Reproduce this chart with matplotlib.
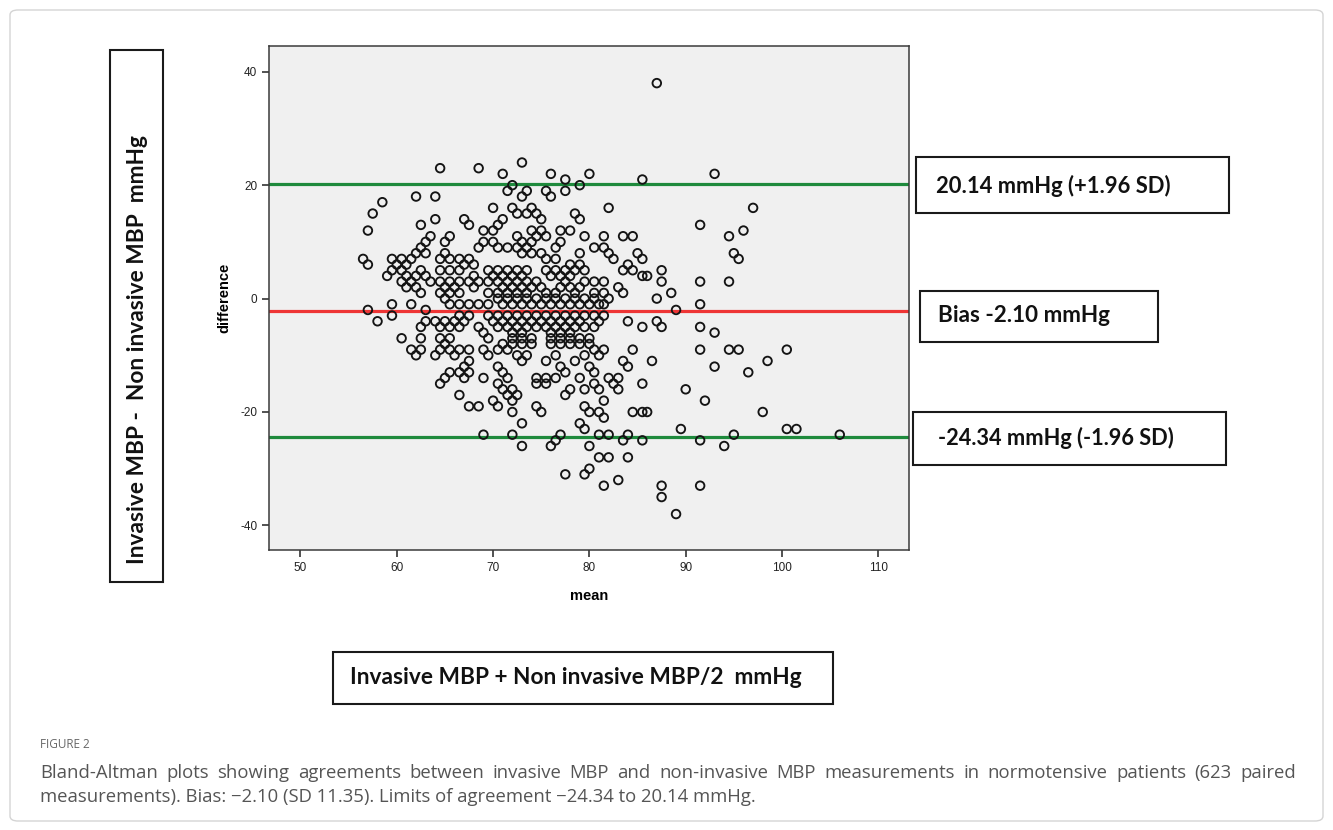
#!/usr/bin/env python3
"""Bland-Altman plot: invasive vs non-invasive MBP (normotensive patients)."""
import matplotlib
matplotlib.use("Agg")
import matplotlib.pyplot as plt
from matplotlib.patches import Rectangle, FancyBboxPatch

W, H, DPI = 1333, 830, 100

upper_loa = 20.14
bias = -2.10
lower_loa = -24.34

x_ticks = [50, 60, 70, 80, 90, 100, 110]
y_ticks = [-40, -20, 0, 20, 40]

# (mean, difference) pairs, mmHg
pairs = [
    (87, 38),
    (73, 24),
    (64.5, 23), (68.5, 23),
    (71, 22), (76, 22), (80, 22), (93, 22),
    (77.5, 21), (85.5, 21),
    (72, 20), (79, 20),
    (71.5, 19), (73.5, 19), (75.5, 19), (77.5, 19),
    (62, 18), (64, 18), (73, 18), (76, 18),
    (58.5, 17),
    (70, 16), (72, 16), (74, 16), (82, 16), (97, 16),
    (57.5, 15), (72.5, 15), (73.5, 15), (74.5, 15), (78.5, 15),
    (64, 14), (67, 14), (71, 14), (75, 14), (79, 14),
    (62.5, 13), (67.5, 13), (70.5, 13), (91.5, 13),
    (57, 12), (69, 12), (70, 12), (74, 12), (75, 12), (77, 12), (78, 12), (96, 12),
    (63.5, 11), (65.5, 11), (72.5, 11), (74.5, 11), (75.5, 11), (79.5, 11),
    (81.5, 11), (83.5, 11), (84.5, 11), (94.5, 11),
    (63, 10), (65, 10), (69, 10), (70, 10), (73, 10), (74, 10), (77, 10),
    (62.5, 9), (68.5, 9), (70.5, 9), (71.5, 9), (72.5, 9), (73.5, 9), (76.5, 9),
    (80.5, 9), (81.5, 9),
    (62, 8), (63, 8), (65, 8), (73, 8), (74, 8), (75, 8), (79, 8), (82, 8), (85, 8), (95, 8),
    (56.5, 7), (59.5, 7), (60.5, 7), (61.5, 7), (64.5, 7), (65.5, 7), (66.5, 7),
    (67.5, 7), (75.5, 7), (76.5, 7), (82.5, 7), (85.5, 7), (95.5, 7),
    (57, 6), (60, 6), (61, 6), (67, 6), (68, 6), (78, 6), (79, 6), (84, 6),
    (59.5, 5), (60.5, 5), (62.5, 5), (64.5, 5), (65.5, 5), (66.5, 5), (69.5, 5),
    (70.5, 5), (71.5, 5), (72.5, 5), (73.5, 5), (75.5, 5), (76.5, 5), (77.5, 5),
    (78.5, 5), (79.5, 5), (83.5, 5), (84.5, 5), (87.5, 5),
    (59, 4), (61, 4), (62, 4), (63, 4), (68, 4), (70, 4), (71, 4), (72, 4), (73, 4),
    (76, 4), (77, 4), (78, 4), (85.5, 4), (86, 4),
    (60.5, 3), (61.5, 3), (63.5, 3), (64.5, 3), (65.5, 3), (66.5, 3), (67.5, 3),
    (68.5, 3), (69.5, 3), (70.5, 3), (71.5, 3), (72.5, 3), (73.5, 3), (74.5, 3),
    (77.5, 3), (79.5, 3), (80.5, 3), (81.5, 3), (87.5, 3), (91.5, 3), (94.5, 3),
    (61, 2), (62, 2), (65, 2), (66, 2), (68, 2), (71, 2), (72, 2), (73, 2), (74, 2),
    (75, 2), (77, 2), (78, 2), (79, 2), (83, 2),
    (62.5, 1), (64.5, 1), (65.5, 1), (66.5, 1), (69.5, 1), (70.5, 1), (71.5, 1),
    (72.5, 1), (73.5, 1), (75.5, 1), (76.5, 1), (78.5, 1), (80.5, 1), (81.5, 1),
    (83.5, 1), (88.5, 1),
    (65, 0), (70.5, 0), (71.5, 0), (72.5, 0), (73.5, 0), (74.5, 0), (75.5, 0),
    (76.5, 0), (77.5, 0), (78.5, 0), (79.5, 0), (80.5, 0), (82, 0), (87, 0),
    (59.5, -1), (61.5, -1), (65.5, -1), (66.5, -1), (67.5, -1), (68.5, -1),
    (69.5, -1), (71, -1), (72, -1), (73, -1), (74, -1), (75, -1), (76, -1),
    (77, -1), (78, -1), (79, -1), (80, -1), (81, -1), (81.5, -1), (91.5, -1),
    (57, -2), (63, -2), (89, -2),
    (59.5, -3), (66.5, -3), (67.5, -3), (69.5, -3), (70.5, -3), (71.5, -3),
    (72.5, -3), (73.5, -3), (74.5, -3), (75.5, -3), (76.5, -3), (77.5, -3),
    (78.5, -3), (79.5, -3), (80.5, -3), (81.5, -3),
    (58, -4), (63, -4), (64, -4), (65, -4), (66, -4), (67, -4), (70, -4), (71, -4),
    (72, -4), (73, -4), (74, -4), (75, -4), (76, -4), (77, -4), (78, -4), (79, -4),
    (81, -4), (84, -4), (87, -4),
    (62.5, -5), (64.5, -5), (65.5, -5), (66.5, -5), (68.5, -5), (70.5, -5),
    (71.5, -5), (72.5, -5), (73.5, -5), (74.5, -5), (75.5, -5), (76.5, -5),
    (77.5, -5), (78.5, -5), (79.5, -5), (80.5, -5), (85.5, -5), (87.5, -5), (91.5, -5),
    (69, -6), (72, -6), (73, -6), (76, -6), (77, -6), (78, -6), (93, -6),
    (60.5, -7), (62.5, -7), (64.5, -7), (65.5, -7), (69.5, -7), (72, -7), (73, -7),
    (74, -7), (76, -7), (77, -7), (78, -7), (79, -7), (80, -7),
    (65, -8), (71, -8), (72, -8), (73, -8), (74, -8), (76, -8), (77, -8), (78, -8),
    (79, -8), (80, -8),
    (61.5, -9), (62.5, -9), (64.5, -9), (65.5, -9), (66.5, -9), (67.5, -9), (69, -9),
    (70.5, -9), (71.5, -9), (80.5, -9), (81.5, -9), (84.5, -9), (91.5, -9),
    (94.5, -9), (95.5, -9), (100.5, -9),
    (62, -10), (64, -10), (66, -10), (69.5, -10), (72.5, -10), (73.5, -10),
    (76.5, -10), (79.5, -10), (81, -10),
    (67.5, -11), (73, -11), (75.5, -11), (78.5, -11), (83.5, -11), (86.5, -11), (98.5, -11),
    (67, -12), (70.5, -12), (77, -12), (80, -12), (84, -12), (93, -12),
    (65.5, -13), (66.5, -13), (67.5, -13), (71, -13), (77.5, -13), (80.5, -13), (96.5, -13),
    (65, -14), (67, -14), (69, -14), (71.5, -14), (74.5, -14), (75.5, -14),
    (76.5, -14), (79, -14), (82, -14), (83, -14),
    (64.5, -15), (70.5, -15), (74.5, -15), (75.5, -15), (80.5, -15), (82.5, -15), (85.5, -15),
    (71, -16), (72, -16), (78, -16), (79.5, -16), (81, -16), (83, -16), (90, -16),
    (66.5, -17), (71.5, -17), (72.5, -17), (77.5, -17),
    (70, -18), (72, -18), (81.5, -18), (92, -18),
    (67.5, -19), (68.5, -19), (70.5, -19), (74.5, -19), (79.5, -19),
    (72, -20), (75, -20), (80, -20), (81, -20), (84.5, -20), (85.5, -20), (86, -20), (98, -20),
    (81.5, -21),
    (73, -22), (79, -22),
    (79.5, -23), (89.5, -23), (100.5, -23), (101.5, -23),
    (69, -24), (72, -24), (77, -24), (81, -24), (82, -24), (84, -24), (95, -24), (106, -24),
    (76.5, -25), (83.5, -25), (85.5, -25), (91.5, -25),
    (73, -26), (76, -26), (80, -26), (94, -26),
    (81, -28), (82, -28), (84, -28),
    (80, -30),
    (77.5, -31), (79.5, -31),
    (83, -32),
    (81.5, -33), (87.5, -33), (91.5, -33),
    (87.5, -35),
    (89, -38),
]
mean_mbp = [p[0] for p in pairs]
diff_mbp = [p[1] for p in pairs]

y_box_label = "Invasive MBP -  Non invasive MBP  mmHg"
x_box_label = "Invasive MBP + Non invasive MBP/2  mmHg"
upper_label = "20.14 mmHg (+1.96 SD)"
bias_label = "Bias -2.10 mmHg"
lower_label = "-24.34 mmHg (-1.96 SD)"
caption_head = "FIGURE 2"
caption_1 = ("Bland-Altman plots showing agreements between invasive MBP and "
             "non-invasive MBP measurements in normotensive patients (623 paired")
caption_2 = ("measurements). Bias: \u22122.10 (SD 11.35). Limits of agreement "
             "\u221224.34 to 20.14 mmHg.")

SPSS_FONT = ["Liberation Sans Narrow", "Liberation Sans", "DejaVu Sans"]
BOX_FONT = ["Lato", "DejaVu Sans"]
CAP_FONT = ["Open Sans", "DejaVu Sans"]

plt.rcParams["axes.unicode_minus"] = False


def fx(px):
    return px / W


def fy(py):
    return 1 - py / H


def box(fig, x0, y0, x1, y1):
    fig.patches.append(Rectangle((fx(x0), fy(y1)), (x1 - x0) / W, (y1 - y0) / H,
                                 transform=fig.transFigure, fill=False,
                                 edgecolor="#1a1a1a", linewidth=1.5))


def fit_text(fig, renderer, t, target, along="width"):
    bb = t.get_window_extent(renderer)
    size = bb.width if along == "width" else bb.height
    t.set_fontsize(t.get_fontsize() * target / size)


def main():
    fig = plt.figure(figsize=(W / DPI, H / DPI), dpi=DPI)
    renderer = fig.canvas.get_renderer()

    # light outer frame
    fig.patches.append(FancyBboxPatch((fx(10), fy(821)), (1323 - 10) / W, (821 - 10) / H,
                                      boxstyle="round,pad=0,rounding_size=0.006",
                                      transform=fig.transFigure, fill=False,
                                      edgecolor="#d4d4d4", linewidth=1.0))

    ax = fig.add_axes([fx(269), fy(550), (909 - 269) / W, (550 - 46) / H])
    ax.set_facecolor("#f0f0f0")
    ax.set_xlim(46.73, 113.19)
    ax.set_ylim(-44.34, 44.55)

    ax.axhline(upper_loa, color="#1e8a3c", linewidth=2.3, zorder=2)
    ax.axhline(lower_loa, color="#1e8a3c", linewidth=2.3, zorder=2)
    ax.axhline(bias, color="#ee3535", linewidth=2.3, zorder=2)

    ax.scatter(mean_mbp, diff_mbp, s=38, facecolors="none", edgecolors="#141414",
               linewidths=1.35, zorder=3)

    ax.set_xticks(x_ticks)
    ax.set_yticks(y_ticks)
    ax.tick_params(direction="out", length=5, width=1.1, colors="#222", labelsize=8.5)
    for lab in ax.get_xticklabels() + ax.get_yticklabels():
        lab.set_family(SPSS_FONT)
    for sp in ax.spines.values():
        sp.set_color("#3a3a3a")
        sp.set_linewidth(1.1)
    ax.set_xlabel("mean", family=SPSS_FONT, fontweight="bold", fontsize=10.5, labelpad=11)
    ax.set_ylabel("difference", family=SPSS_FONT, fontweight="bold", fontsize=10.5, labelpad=6)

    # y label box
    box(fig, 110, 50, 163, 582)
    t = fig.text(fx(137), fy(350), y_box_label, rotation=90, ha="center", va="center",
                 family=BOX_FONT, fontweight="bold", fontsize=14, color="#111")
    fit_text(fig, renderer, t, 430, along="height")

    # x label box
    box(fig, 333, 652, 833, 704)
    t = fig.text(fx(350), fy(677), x_box_label, ha="left", va="center",
                 family=BOX_FONT, fontweight="bold", fontsize=14, color="#111")
    fit_text(fig, renderer, t, 452)

    # limit / bias boxes
    box(fig, 916, 157, 1229, 213)
    t = fig.text(fx(936), fy(186), upper_label, ha="left", va="center",
                 family=BOX_FONT, fontweight="bold", fontsize=14, color="#111")
    fit_text(fig, renderer, t, 236)

    box(fig, 920, 291, 1158, 342)
    t = fig.text(fx(938), fy(316), bias_label, ha="left", va="center",
                 family=BOX_FONT, fontweight="bold", fontsize=14, color="#111")
    fit_text(fig, renderer, t, 174)

    box(fig, 913, 412, 1226, 465)
    t = fig.text(fx(938), fy(438), lower_label, ha="left", va="center",
                 family=BOX_FONT, fontweight="bold", fontsize=14, color="#111")
    fit_text(fig, renderer, t, 237)

    # caption
    fig.text(fx(40), fy(745), caption_head, ha="left", va="center",
             family=CAP_FONT, fontsize=8.5, color="#666")
    t2 = fig.text(fx(40), fy(797), caption_2, ha="left", va="center",
                  family=CAP_FONT, fontsize=11, color="#555")
    fit_text(fig, renderer, t2, 715)
    size = t2.get_fontsize()

    words = caption_1.split(" ")
    texts = [fig.text(0, fy(773), w, ha="left", va="center", family=CAP_FONT,
                      fontsize=size, color="#555") for w in words]
    widths = [tx.get_window_extent(renderer).width for tx in texts]
    gap = (1296 - 40 - sum(widths)) / (len(words) - 1)
    x = 40
    for tx, w in zip(texts, widths):
        tx.set_x(fx(x))
        x += w + gap

    fig.savefig("out.png", dpi=DPI)
    plt.close(fig)


if __name__ == "__main__":
    main()
